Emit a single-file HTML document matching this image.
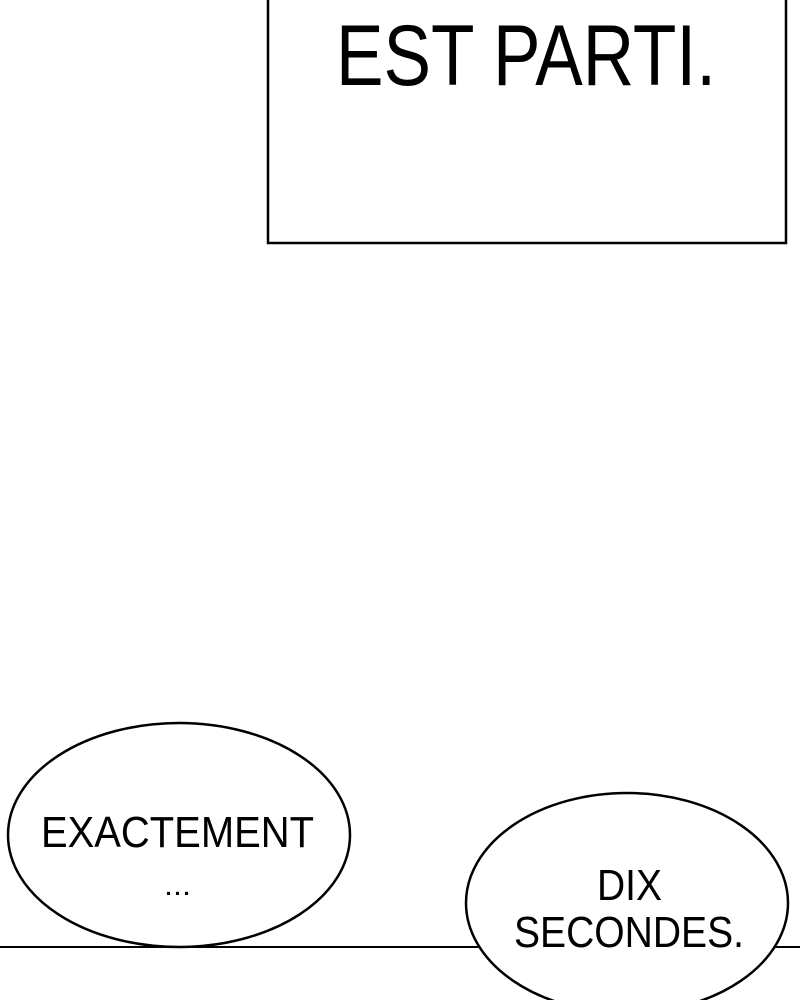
<!DOCTYPE html>
<html><head><meta charset="utf-8"><style>
html,body{margin:0;padding:0;background:#fff;width:800px;height:1000px;overflow:hidden}
svg{display:block}
text{font-family:"Liberation Sans",Arial,sans-serif;fill:#000}
</style></head><body>
<svg width="800" height="1000" viewBox="0 0 800 1000">
<rect x="268" y="-10" width="518" height="253" fill="#fff" stroke="#000" stroke-width="2.5"/>
<text x="336" y="85" font-size="86" textLength="380" lengthAdjust="spacingAndGlyphs">EST PARTI.</text>
<line x1="0" y1="947" x2="800" y2="947" stroke="#000" stroke-width="2"/>
<ellipse cx="179" cy="835" rx="171" ry="112" fill="#fff" stroke="#000" stroke-width="2.5"/>
<text x="41" y="847" font-size="44" textLength="273" lengthAdjust="spacingAndGlyphs">EXACTEMENT</text>
<text x="164" y="895" font-size="30" textLength="27" lengthAdjust="spacingAndGlyphs">...</text>
<ellipse cx="627" cy="903" rx="161" ry="110" fill="#fff" stroke="#000" stroke-width="2.5"/>
<text x="597" y="900" font-size="44" textLength="65" lengthAdjust="spacingAndGlyphs">DIX</text>
<text x="514" y="947" font-size="44" textLength="230" lengthAdjust="spacingAndGlyphs">SECONDES.</text>
</svg>
</body></html>
